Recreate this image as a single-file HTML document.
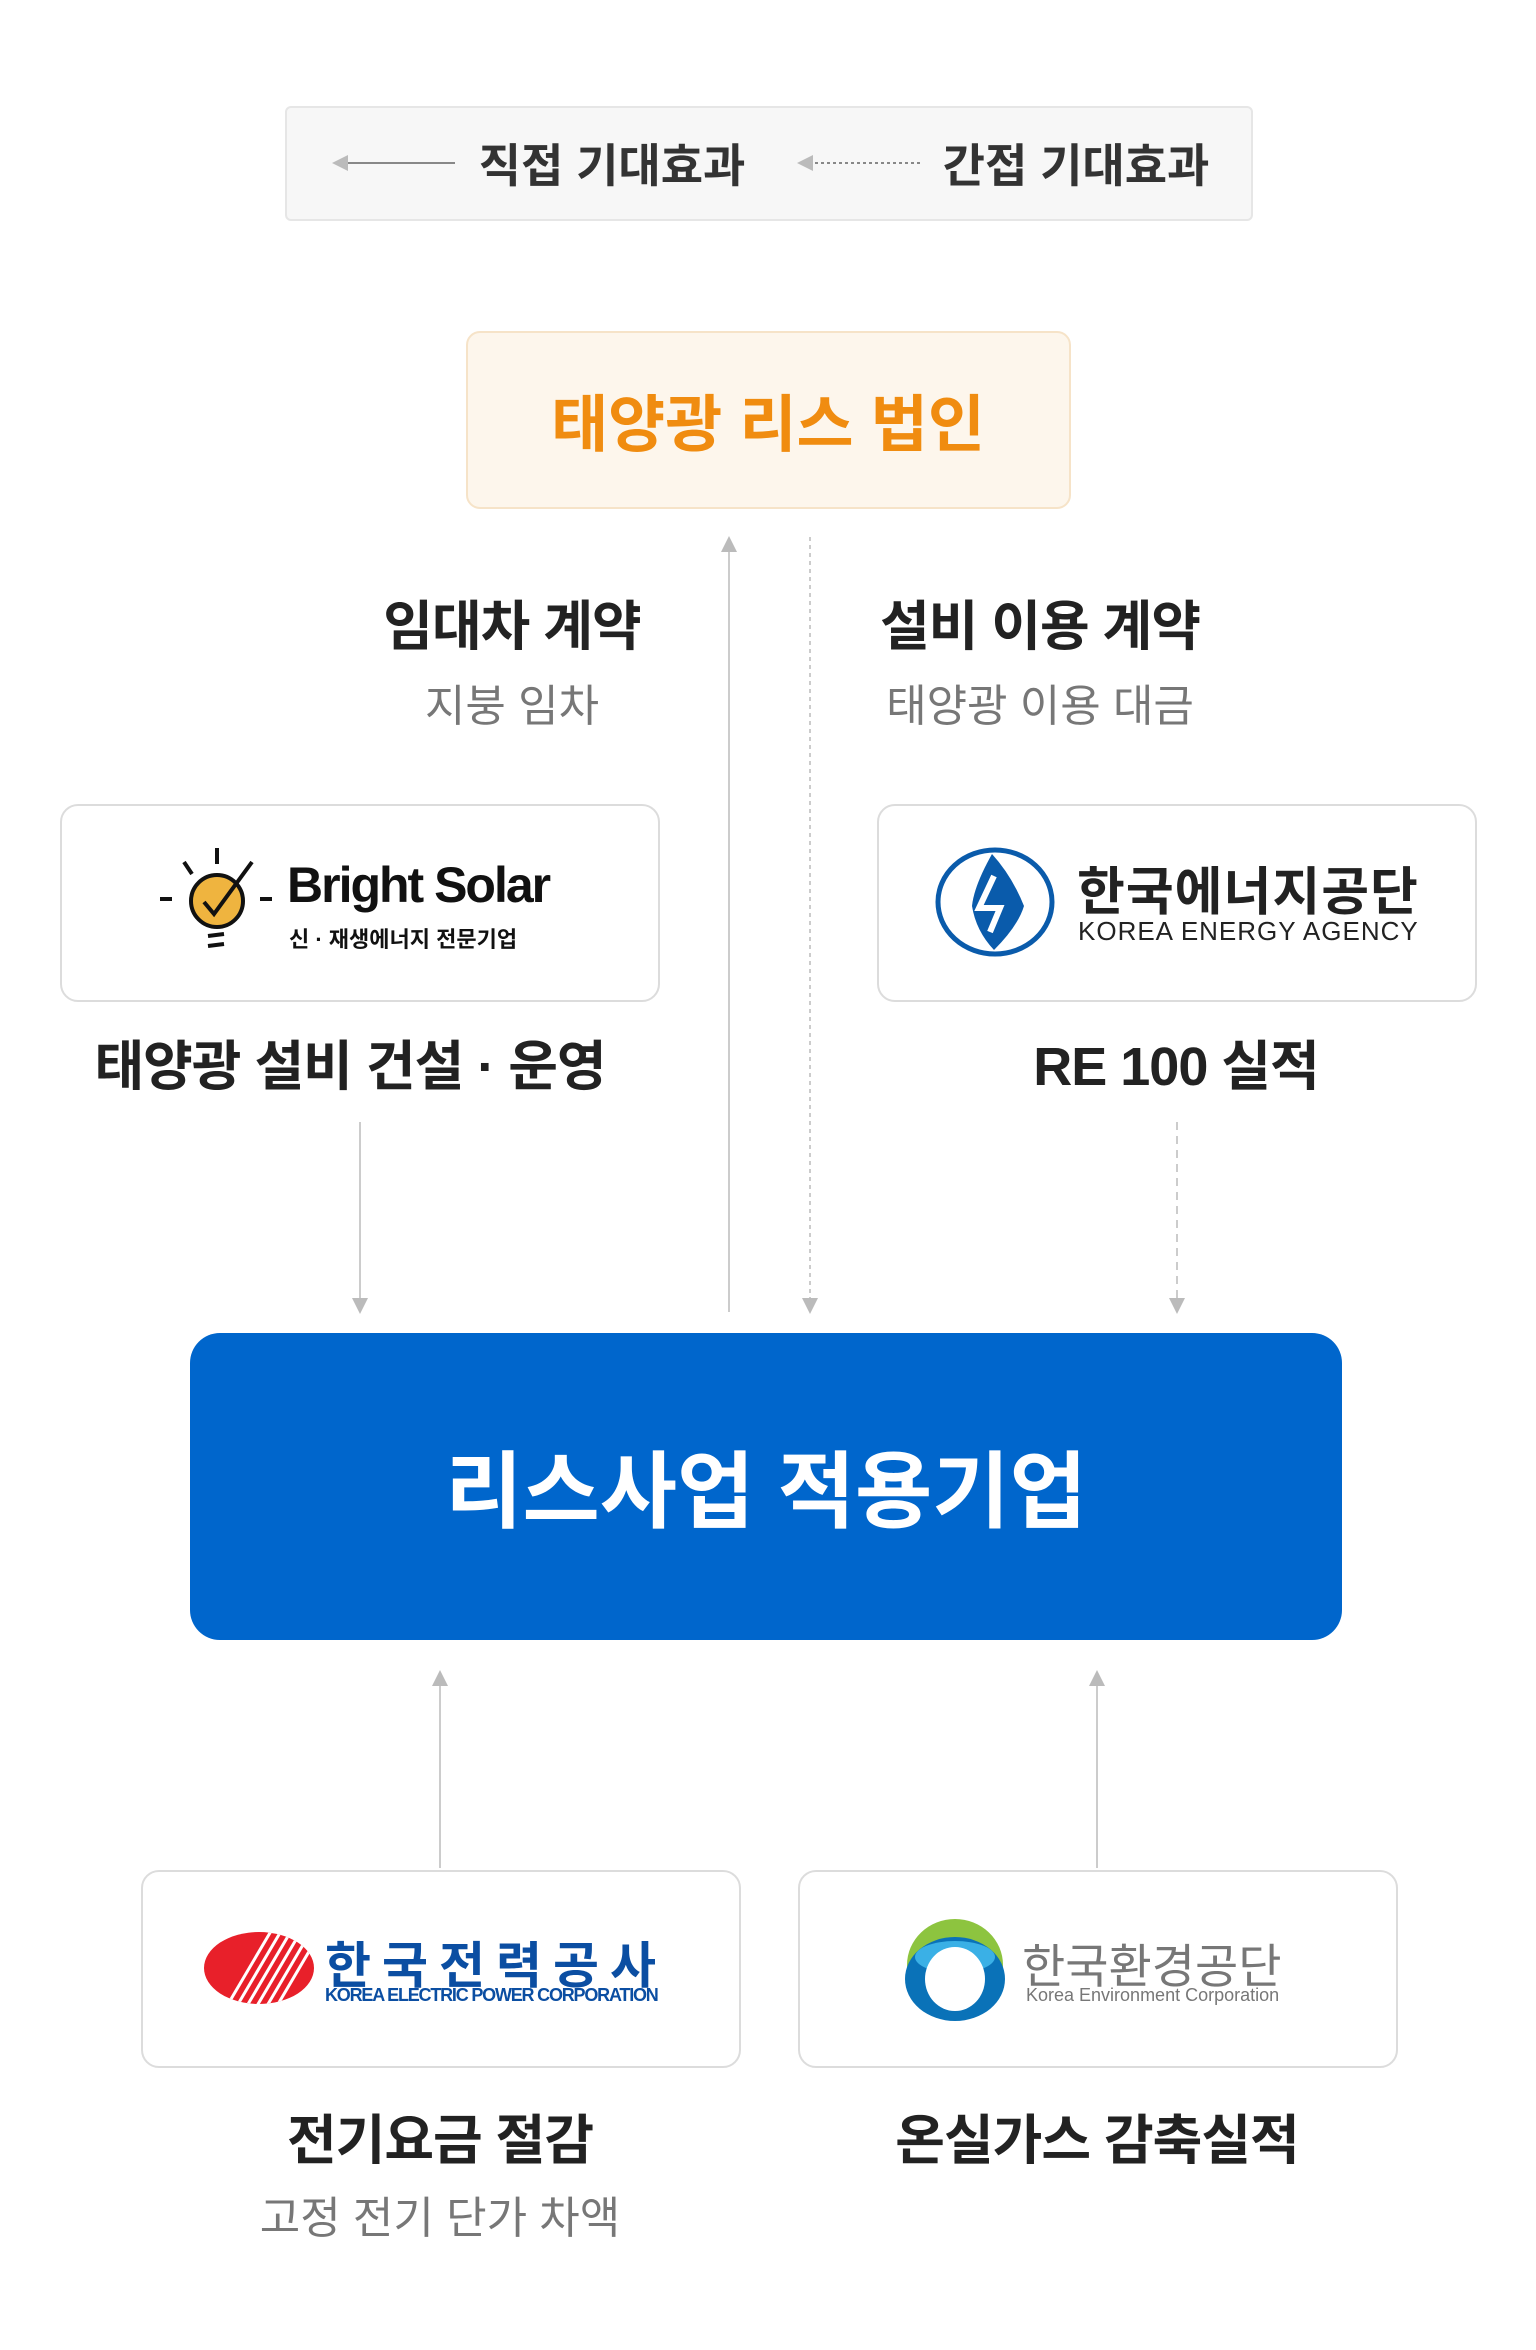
<!DOCTYPE html>
<html><head><meta charset="utf-8"><style>
*{margin:0;padding:0;box-sizing:border-box}
body{width:1536px;height:2350px;background:#fff;position:relative;overflow:hidden;font-family:"Liberation Sans","Noto Sans CJK KR",sans-serif}
.a{position:absolute}
.box{position:absolute;background:#fff;border:2px solid #dcdcdc;border-radius:18px}
.t{position:absolute;text-align:center;white-space:nowrap;transform:translateX(-50%)}
.b{font-weight:700;color:#222;font-size:54px;letter-spacing:-1px}
.g{color:#777;font-size:44px}
</style></head><body>
<div class="a" style="left:285px;top:106px;width:968px;height:115px;background:#f7f7f7;border:2px solid #e6e6e6;border-radius:6px"></div>
<svg class="a" style="left:0;top:0" width="1536" height="2350">
 <defs>
  <marker id="ar" markerWidth="10" markerHeight="10" refX="5" refY="5" orient="auto"><path d="M0,1 L8,5 L0,9 z" fill="#bbb"/></marker>
 </defs>
 <line x1="455" y1="163" x2="338" y2="163" stroke="#888" stroke-width="2" marker-end="url(#ar)"/>
 <line x1="920" y1="163" x2="803" y2="163" stroke="#888" stroke-width="2" stroke-dasharray="3,3" marker-end="url(#ar)"/>
 <line x1="729" y1="1312" x2="729" y2="542" stroke="#ccc" stroke-width="2" marker-end="url(#ar)"/>
 <line x1="810" y1="537" x2="810" y2="1308" stroke="#ccc" stroke-width="2" stroke-dasharray="4,4" marker-end="url(#ar)"/>
 <line x1="360" y1="1122" x2="360" y2="1308" stroke="#ccc" stroke-width="2" marker-end="url(#ar)"/>
 <line x1="1177" y1="1122" x2="1177" y2="1308" stroke="#ccc" stroke-width="2" stroke-dasharray="8,6" marker-end="url(#ar)"/>
 <line x1="440" y1="1868" x2="440" y2="1676" stroke="#ccc" stroke-width="2" marker-end="url(#ar)"/>
 <line x1="1097" y1="1868" x2="1097" y2="1676" stroke="#ccc" stroke-width="2" marker-end="url(#ar)"/>
</svg>
<div class="t" style="left:612px;top:130px;font-size:46px;font-weight:700;color:#333">직접 기대효과</div>
<div class="t" style="left:1076px;top:130px;font-size:46px;font-weight:700;color:#333">간접 기대효과</div>

<div class="a" style="left:466px;top:331px;width:605px;height:178px;background:#fdf6ec;border:2px solid #f6e3c8;border-radius:14px"></div>
<div class="t" style="left:768px;top:374px;font-size:62px;font-weight:700;color:#f08c10">태양광 리스 법인</div>

<div class="t b" style="left:512px;top:582px">임대차 계약</div>
<div class="t g" style="left:512px;top:670px">지붕 임차</div>
<div class="t b" style="left:1040px;top:582px">설비 이용 계약</div>
<div class="t g" style="left:1040px;top:670px">태양광 이용 대금</div>

<div class="box" style="left:60px;top:804px;width:600px;height:198px"></div>
<div class="box" style="left:877px;top:804px;width:600px;height:198px"></div>
<svg class="a" style="left:160px;top:846px" width="115" height="110">
 <line x1="57" y1="2" x2="57" y2="18" stroke="#111" stroke-width="4"/>
 <line x1="24" y1="16" x2="32" y2="28" stroke="#111" stroke-width="4"/>
 <line x1="0" y1="53" x2="12" y2="53" stroke="#111" stroke-width="4"/>
 <line x1="100" y1="53" x2="112" y2="53" stroke="#111" stroke-width="4"/>
 <circle cx="57" cy="55" r="26" fill="#efb43f" stroke="#111" stroke-width="4"/>
 <path d="M44,56 L54,68 L92,16" fill="none" stroke="#111" stroke-width="4"/>
 <line x1="48" y1="90" x2="64" y2="88" stroke="#111" stroke-width="4"/>
 <line x1="48" y1="100" x2="64" y2="98" stroke="#111" stroke-width="4"/>
</svg>
<div class="a" style="left:287px;top:856px;font-size:50px;font-weight:700;color:#111;letter-spacing:-2px">Bright Solar</div>
<div class="a" style="left:289px;top:922px;font-size:22px;font-weight:700;color:#111">신 · 재생에너지 전문기업</div>
<svg class="a" style="left:934px;top:846px" width="122" height="112">
 <ellipse cx="61" cy="56" rx="57" ry="52" fill="#fff" stroke="#0a5bab" stroke-width="5"/>
 <path d="M58,8 Q40,40 38,60 Q42,85 60,104 Q84,80 90,60 Q78,30 58,8 z" fill="#0a5bab"/>
 <path d="M60,30 L45,62 L66,62 L56,86" fill="none" stroke="#fff" stroke-width="6"/>
</svg>
<div class="a" style="left:1077px;top:850px;font-size:52px;font-weight:700;color:#222;letter-spacing:1px">한국에너지공단</div>
<div class="a" style="left:1078px;top:916px;font-size:26px;color:#222;letter-spacing:1px">KOREA ENERGY AGENCY</div>

<div class="t b" style="left:350px;top:1022px">태양광 설비 건설 · 운영</div>
<div class="t b" style="left:1176px;top:1022px">RE 100 실적</div>

<div class="a" style="left:190px;top:1333px;width:1152px;height:307px;background:#0066cc;border-radius:30px"></div>
<div class="t" style="left:766px;top:1425px;font-size:84px;font-weight:700;color:#fff">리스사업 적용기업</div>

<div class="box" style="left:141px;top:1870px;width:600px;height:198px"></div>
<div class="box" style="left:798px;top:1870px;width:600px;height:198px"></div>
<svg class="a" style="left:204px;top:1931px" width="112" height="74">
 <defs><clipPath id="c"><ellipse cx="55" cy="37" rx="55" ry="36"/></clipPath></defs>
 <g clip-path="url(#c)">
  <rect width="112" height="74" fill="#e8202a"/>
  <g stroke="#fff" stroke-width="3">
   <line x1="40" y1="80" x2="90" y2="-5"/><line x1="50" y1="80" x2="100" y2="-5"/><line x1="60" y1="80" x2="110" y2="-5"/><line x1="70" y1="80" x2="120" y2="-5"/><line x1="30" y1="80" x2="80" y2="-5"/><line x1="20" y1="80" x2="70" y2="-5"/>
  </g>
 </g>
</svg>
<div class="a" style="left:325px;top:1926px;font-size:50px;font-weight:700;color:#0b4ea2;letter-spacing:11px">한국전력공사</div>
<div class="a" style="left:325px;top:1985px;font-size:18px;font-weight:700;color:#0b4ea2;letter-spacing:-1.2px">KOREA ELECTRIC POWER CORPORATION</div>
<svg class="a" style="left:902px;top:1917px" width="106" height="106">
 <ellipse cx="53" cy="48" rx="48" ry="46" fill="#8dc43f"/>
 <ellipse cx="53" cy="62" rx="50" ry="42" fill="#0a72b8"/>
 <ellipse cx="53" cy="40" rx="40" ry="16" fill="#3ab0e6"/>
 <ellipse cx="53" cy="62" rx="30" ry="32" fill="#fff"/>
</svg>
<div class="a" style="left:1022px;top:1928px;font-size:47px;color:#777;letter-spacing:0px">한국환경공단</div>
<div class="a" style="left:1026px;top:1985px;font-size:18px;color:#777">Korea Environment Corporation</div>

<div class="t b" style="left:440px;top:2096px">전기요금 절감</div>
<div class="t g" style="left:440px;top:2182px">고정 전기 단가 차액</div>
<div class="t b" style="left:1097px;top:2096px">온실가스 감축실적</div>
</body></html>
